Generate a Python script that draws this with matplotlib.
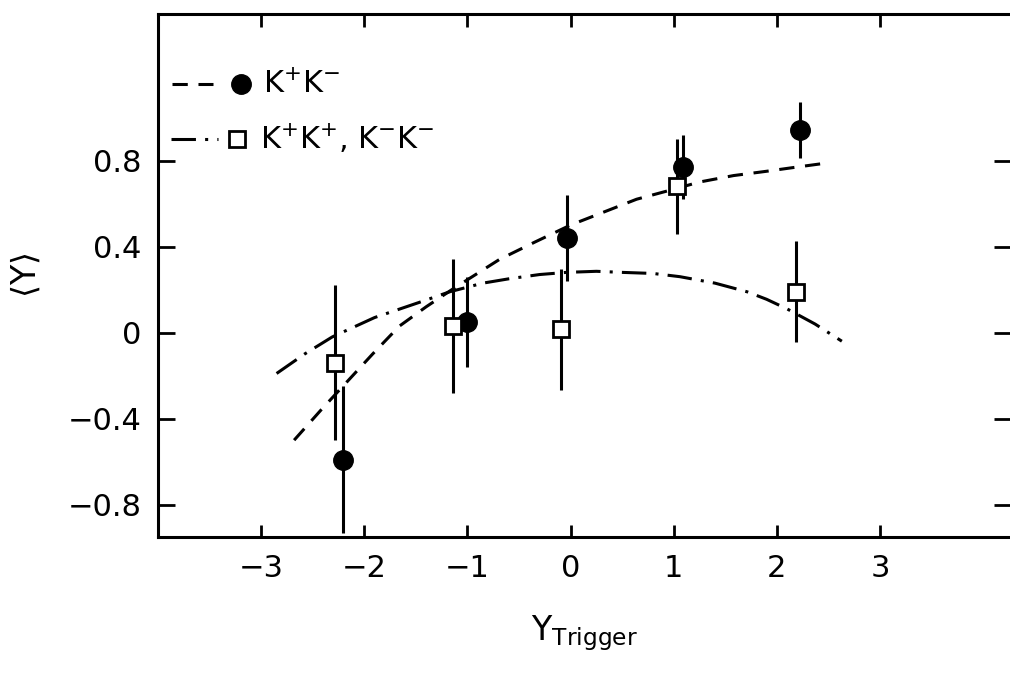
import matplotlib
matplotlib.use("Agg")
import matplotlib.pyplot as plt

plt.rcParams['font.family'] = ['DejaVu Sans']
plt.rcParams['mathtext.fontset'] = 'dejavusans'

# K+K- (filled circles)
kpkm_x = [-2.21, -1.00, -0.03, 1.09, 2.22]
kpkm_y = [-0.59, 0.05, 0.44, 0.77, 0.94]
kpkm_err = [0.34, 0.21, 0.20, 0.15, 0.13]

# K+K+, K-K- (open squares)
same_x = [-2.28, -1.14, -0.09, 1.03, 2.19]
same_y = [-0.14, 0.03, 0.015, 0.68, 0.19]
same_err = [0.36, 0.31, 0.28, 0.22, 0.235]

# fitted curves
dash_x = [-2.68, -2.42, -2.17, -1.92, -1.66, -1.40, -1.15, -0.92, -0.69,
          -0.35, 0.0, 0.32, 0.64, 0.95, 1.25, 1.58, 1.9, 2.2, 2.51]
dash_y = [-0.50, -0.36, -0.23, -0.10, 0.03, 0.12, 0.20, 0.27, 0.34,
          0.42, 0.50, 0.56, 0.62, 0.66, 0.70, 0.73, 0.75, 0.77, 0.79]
dd_x = [-2.85, -2.58, -2.31, -1.9, -1.47, -1.17, -0.85, -0.6, -0.3, -0.04,
        0.25, 0.5, 0.8, 1.06, 1.4, 1.71, 1.9, 2.10, 2.37, 2.63]
dd_y = [-0.19, -0.10, -0.02, 0.07, 0.14, 0.19, 0.23, 0.25, 0.27, 0.28,
        0.285, 0.28, 0.275, 0.26, 0.23, 0.19, 0.155, 0.11, 0.04, -0.04]

xticks = [-3, -2, -1, 0, 1, 2, 3]
yticks = [-0.8, -0.4, 0, 0.4, 0.8]
ytick_labels = ["\u22120.8", "\u22120.4", "0", "0.4", "0.8"]
xtick_labels = ["\u22123", "\u22122", "\u22121", "0", "1", "2", "3"]

fig = plt.figure(figsize=(10.10, 6.78), dpi=100)
ax = fig.add_axes([0.1564, 0.208, 0.8446, 0.771])

lw = 2.2
ax.plot(dash_x, dash_y, color='black', lw=lw, linestyle=(0, (5, 3.5)))
ax.plot(dd_x, dd_y, color='black', lw=lw, linestyle=(0, (8, 3, 1, 3)))

ax.errorbar(kpkm_x, kpkm_y, yerr=kpkm_err, fmt='o', color='black',
            ms=14, elinewidth=2.2, capsize=0, zorder=3)
ax.errorbar(same_x, same_y, yerr=same_err, fmt='s', color='black',
            mfc='white', mec='black', mew=2, ms=12, elinewidth=2.2,
            capsize=0, zorder=4)

ax.set_xlim(-4.0, 4.27)
ax.set_ylim(-0.95, 1.48)
ax.set_xticks(xticks)
ax.set_xticklabels(xtick_labels)
ax.set_yticks(yticks)
ax.set_yticklabels(ytick_labels)
ax.tick_params(direction='in', length=9, width=2, labelsize=22,
               top=True, right=True, pad=12)
ax.tick_params(axis='y', right=True, length=12)
for sp in ax.spines.values():
    sp.set_linewidth(2.2)
ax.spines['right'].set_visible(False)

ax.set_xlabel(r'Y$_{\mathrm{Trigger}}$', fontsize=24, labelpad=22)
ax.set_ylabel(r'$\langle\mathrm{Y}\rangle$', fontsize=24)
ax.yaxis.set_label_coords(-0.135, 0.5)

# hand-made legend in the upper left corner
tr = ax.transAxes
ax.plot([0.017, 0.064], [0.866, 0.866], transform=tr, color='black',
        lw=lw, linestyle=(0, (5, 3.5)))
ax.plot([0.097], [0.866], transform=tr, marker='o', ms=14, color='black')
ax.text(0.123, 0.866, r'K$^{+}$K$^{-}$', transform=tr, fontsize=22,
        va='center', ha='left')
ax.plot([0.015, 0.070], [0.762, 0.762], transform=tr, color='black',
        lw=lw, linestyle=(0, (8, 3, 1, 3)))
ax.plot([0.093], [0.762], transform=tr, marker='s', ms=11, mfc='white',
        mec='black', mew=2, color='black')
ax.text(0.120, 0.762, r'K$^{+}$K$^{+}$, K$^{-}$K$^{-}$', transform=tr,
        fontsize=22, va='center', ha='left')

fig.savefig('out.png', dpi=100)
